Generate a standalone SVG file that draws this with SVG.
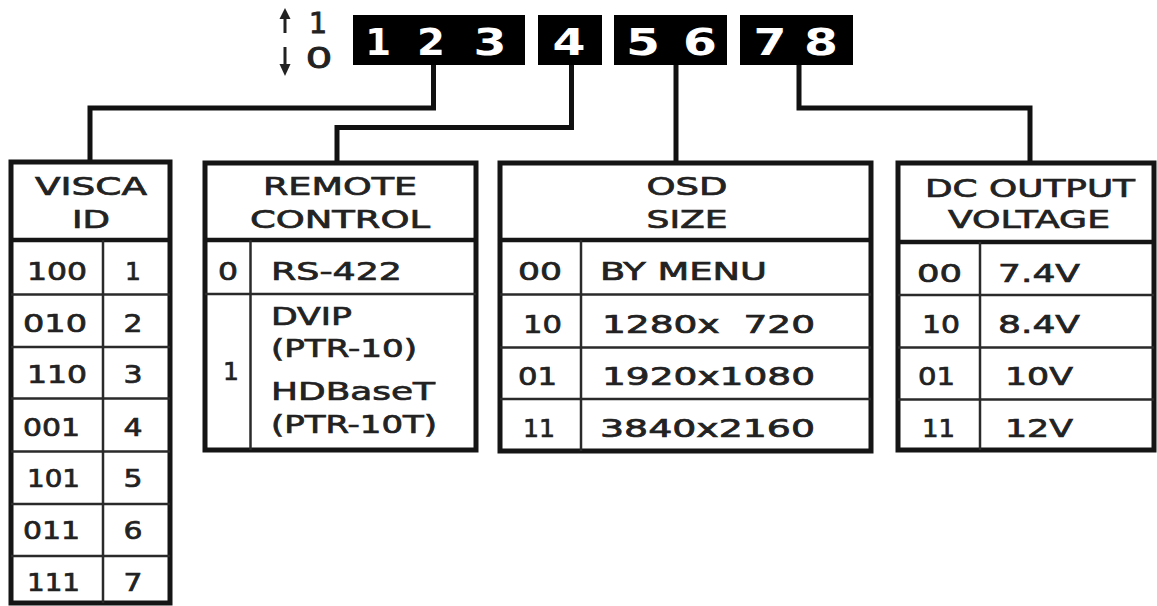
<svg xmlns="http://www.w3.org/2000/svg" width="1157" height="606" viewBox="0 0 1157 606">
<style>
.frame{fill:#fff;stroke:#151515;stroke-width:5}
.hsep{stroke:#151515;stroke-width:4.5}
.grid{stroke:#2a2a2a;stroke-width:2.5}
.t{font-family:"DejaVu Sans","Liberation Sans",sans-serif;font-size:25px;fill:#222;stroke:#222;stroke-width:0.7}
.c{text-anchor:middle}
.pre{white-space:pre}
.conn{fill:none;stroke:#111;stroke-width:5;stroke-linejoin:miter}
.sw{fill:#000}
.dig{font-family:"DejaVu Sans","Liberation Sans",sans-serif;font-weight:bold;font-size:37px;fill:#fff;text-anchor:middle}
.leg{font-family:"DejaVu Sans","Liberation Sans",sans-serif;font-size:29px;fill:#222;stroke:#222;stroke-width:0.8;text-anchor:middle}
</style>
<rect width="1157" height="606" fill="#fff"/>

<g id="switch">
  <g id="legend">
    <rect x="283.5" y="16" width="3" height="17" fill="#222"/>
    <polygon points="285,8 279.5,19 290.5,19" fill="#222"/>
    <rect x="283.5" y="47" width="3" height="18" fill="#222"/>
    <polygon points="285,76 279.5,64 290.5,64" fill="#222"/>
    <text class="leg" x="318" y="33">1</text>
    <text class="leg" x="319" y="68" textLength="27" lengthAdjust="spacingAndGlyphs">0</text>
  </g>
  <rect class="sw" x="353" y="15" width="172" height="50"/>
  <rect class="sw" x="538" y="15" width="64" height="50"/>
  <rect class="sw" x="614" y="15" width="113" height="50"/>
  <rect class="sw" x="740" y="15" width="113" height="50"/>
  <text class="dig" x="378" y="55">1</text>
  <text class="dig" x="431" y="55" textLength="28" lengthAdjust="spacingAndGlyphs">2</text>
  <text class="dig" x="490" y="55" textLength="33" lengthAdjust="spacingAndGlyphs">3</text>
  <text class="dig" x="569" y="55" textLength="33" lengthAdjust="spacingAndGlyphs">4</text>
  <text class="dig" x="643" y="55" textLength="34" lengthAdjust="spacingAndGlyphs">5</text>
  <text class="dig" x="700" y="55" textLength="34" lengthAdjust="spacingAndGlyphs">6</text>
  <text class="dig" x="770" y="55" textLength="33" lengthAdjust="spacingAndGlyphs">7</text>
  <text class="dig" x="821" y="55" textLength="34" lengthAdjust="spacingAndGlyphs">8</text>
</g>

<g id="connectors">
  <polyline class="conn" points="433.5,65 433.5,108 90,108 90,162"/>
  <polyline class="conn" points="571.5,65 571.5,127.5 337,127.5 337,162"/>
  <polyline class="conn" points="676,65 676,162"/>
  <polyline class="conn" points="799,65 799,108 1030,108 1030,162"/>
</g>

<g id="visca">
  <rect class="frame" x="11" y="162" width="159" height="441"/>
  <line class="hsep" x1="11" y1="240" x2="170" y2="240"/>
  <line class="grid" x1="11" y1="294.5" x2="170" y2="294.5"/>
  <line class="grid" x1="11" y1="347" x2="170" y2="347"/>
  <line class="grid" x1="11" y1="398.5" x2="170" y2="398.5"/>
  <line class="grid" x1="11" y1="451.5" x2="170" y2="451.5"/>
  <line class="grid" x1="11" y1="504" x2="170" y2="504"/>
  <line class="grid" x1="11" y1="556" x2="170" y2="556"/>
  <line class="grid" x1="103" y1="240" x2="103" y2="603"/>
  <text class="t c" x="91" y="195" textLength="112" lengthAdjust="spacingAndGlyphs">VISCA</text>
  <text class="t c" x="91" y="228" textLength="38" lengthAdjust="spacingAndGlyphs">ID</text>
  <text class="t" x="27" y="280" textLength="60" lengthAdjust="spacingAndGlyphs">100</text>
  <text class="t" x="23" y="332" textLength="64" lengthAdjust="spacingAndGlyphs">010</text>
  <text class="t" x="27" y="383" textLength="60" lengthAdjust="spacingAndGlyphs">110</text>
  <text class="t" x="23" y="436" textLength="57" lengthAdjust="spacingAndGlyphs">001</text>
  <text class="t" x="27" y="487" textLength="53" lengthAdjust="spacingAndGlyphs">101</text>
  <text class="t" x="23" y="539" textLength="57" lengthAdjust="spacingAndGlyphs">011</text>
  <text class="t" x="27" y="591" textLength="53" lengthAdjust="spacingAndGlyphs">111</text>
  <text class="t c" x="133" y="280">1</text>
  <text class="t c" x="133" y="332" textLength="19" lengthAdjust="spacingAndGlyphs">2</text>
  <text class="t c" x="133" y="383" textLength="19" lengthAdjust="spacingAndGlyphs">3</text>
  <text class="t c" x="133" y="436" textLength="19" lengthAdjust="spacingAndGlyphs">4</text>
  <text class="t c" x="133" y="487" textLength="19" lengthAdjust="spacingAndGlyphs">5</text>
  <text class="t c" x="133" y="539" textLength="19" lengthAdjust="spacingAndGlyphs">6</text>
  <text class="t c" x="133" y="591" textLength="19" lengthAdjust="spacingAndGlyphs">7</text>
</g>

<g id="remote">
  <rect class="frame" x="205" y="163" width="271" height="287"/>
  <line class="hsep" x1="205" y1="240" x2="476" y2="240"/>
  <line class="grid" x1="205" y1="294" x2="476" y2="294"/>
  <line class="grid" x1="250.5" y1="240" x2="250.5" y2="450"/>
  <text class="t c" x="340" y="195" textLength="154" lengthAdjust="spacingAndGlyphs">REMOTE</text>
  <text class="t c" x="340" y="228" textLength="180" lengthAdjust="spacingAndGlyphs">CONTROL</text>
  <text class="t c" x="228" y="280" textLength="20" lengthAdjust="spacingAndGlyphs">0</text>
  <text class="t" x="271" y="280" textLength="131" lengthAdjust="spacingAndGlyphs">RS-422</text>
  <text class="t c" x="231" y="380">1</text>
  <text class="t" x="271" y="325" textLength="81" lengthAdjust="spacingAndGlyphs">DVIP</text>
  <text class="t" x="271" y="357" textLength="146" lengthAdjust="spacingAndGlyphs">(PTR-10)</text>
  <text class="t" x="271" y="400" textLength="164" lengthAdjust="spacingAndGlyphs">HDBaseT</text>
  <text class="t" x="271" y="433" textLength="166" lengthAdjust="spacingAndGlyphs">(PTR-10T)</text>
</g>

<g id="osd">
  <rect class="frame" x="500" y="163" width="371" height="288"/>
  <line class="hsep" x1="500" y1="240" x2="871" y2="240"/>
  <line class="grid" x1="500" y1="294.5" x2="871" y2="294.5"/>
  <line class="grid" x1="500" y1="347.5" x2="871" y2="347.5"/>
  <line class="grid" x1="500" y1="399" x2="871" y2="399"/>
  <line class="grid" x1="581" y1="240" x2="581" y2="451"/>
  <text class="t c" x="687" y="195" textLength="81" lengthAdjust="spacingAndGlyphs">OSD</text>
  <text class="t c" x="687" y="228" textLength="81" lengthAdjust="spacingAndGlyphs">SIZE</text>
  <text class="t" x="518" y="280" textLength="44" lengthAdjust="spacingAndGlyphs">00</text>
  <text class="t" x="600" y="280" textLength="167" lengthAdjust="spacingAndGlyphs">BY MENU</text>
  <text class="t" x="523" y="333" textLength="39" lengthAdjust="spacingAndGlyphs">10</text>
  <text class="t pre" x="602" y="333" textLength="213" lengthAdjust="spacingAndGlyphs">1280x  720</text>
  <text class="t" x="518" y="385" textLength="39" lengthAdjust="spacingAndGlyphs">01</text>
  <text class="t" x="602" y="385" textLength="213" lengthAdjust="spacingAndGlyphs">1920x1080</text>
  <text class="t" x="523" y="437" textLength="32" lengthAdjust="spacingAndGlyphs">11</text>
  <text class="t" x="600" y="437" textLength="215" lengthAdjust="spacingAndGlyphs">3840x2160</text>
</g>

<g id="dc">
  <rect class="frame" x="898" y="163" width="256" height="287"/>
  <line class="hsep" x1="898" y1="242" x2="1154" y2="242"/>
  <line class="grid" x1="898" y1="295" x2="1154" y2="295"/>
  <line class="grid" x1="898" y1="347.5" x2="1154" y2="347.5"/>
  <line class="grid" x1="898" y1="399.5" x2="1154" y2="399.5"/>
  <line class="grid" x1="980" y1="242" x2="980" y2="450"/>
  <text class="t c" x="1030" y="197" textLength="210" lengthAdjust="spacingAndGlyphs">DC OUTPUT</text>
  <text class="t c" x="1029" y="228" textLength="162" lengthAdjust="spacingAndGlyphs">VOLTAGE</text>
  <text class="t" x="917" y="282" textLength="45" lengthAdjust="spacingAndGlyphs">00</text>
  <text class="t" x="998" y="282" textLength="82" lengthAdjust="spacingAndGlyphs">7.4V</text>
  <text class="t" x="922" y="333" textLength="38" lengthAdjust="spacingAndGlyphs">10</text>
  <text class="t" x="998" y="333" textLength="82" lengthAdjust="spacingAndGlyphs">8.4V</text>
  <text class="t" x="918" y="385" textLength="37" lengthAdjust="spacingAndGlyphs">01</text>
  <text class="t" x="1005" y="385" textLength="68" lengthAdjust="spacingAndGlyphs">10V</text>
  <text class="t" x="922" y="437" textLength="33" lengthAdjust="spacingAndGlyphs">11</text>
  <text class="t" x="1005" y="437" textLength="68" lengthAdjust="spacingAndGlyphs">12V</text>
</g>
</svg>
